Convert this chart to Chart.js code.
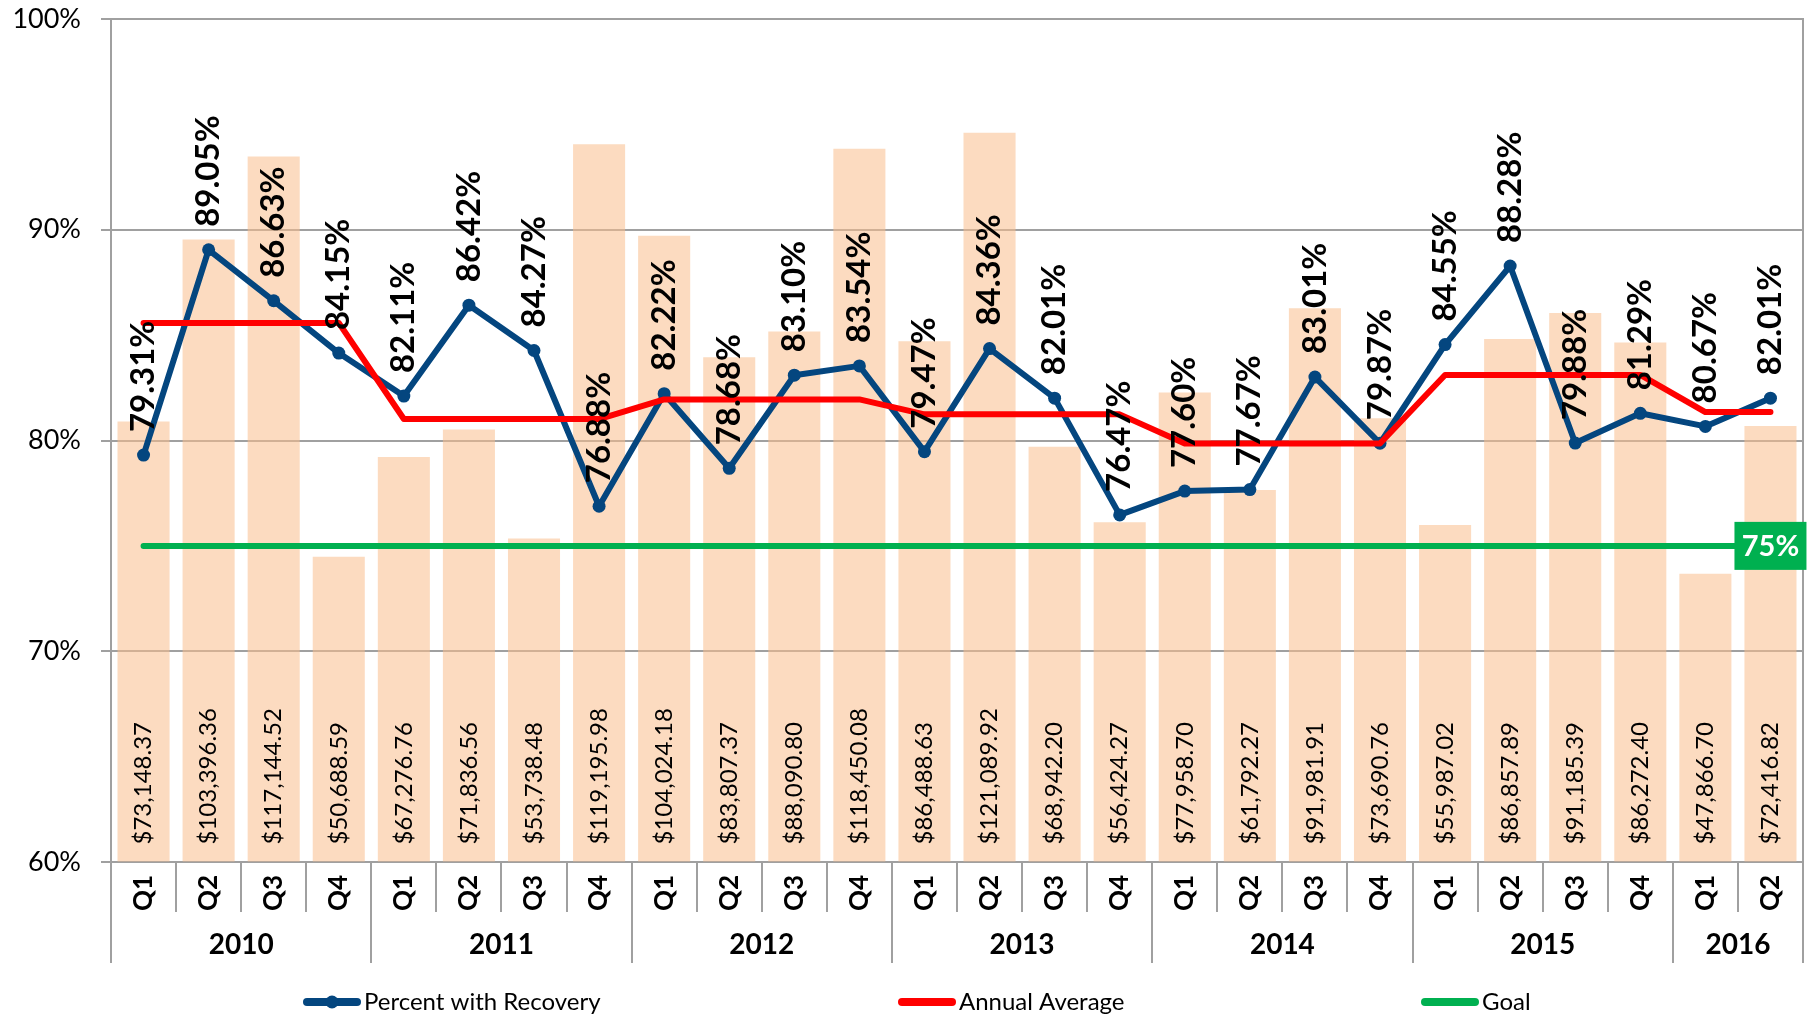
<!DOCTYPE html>
<html><head><meta charset="utf-8">
<script src="https://cdn.jsdelivr.net/npm/chart.js@4.4.1/dist/chart.umd.min.js"></script>
<style>html,body{margin:0;padding:0;background:#fff;overflow:hidden}#wrap{width:1818px;height:1015px}</style>
</head><body><div id="wrap"><canvas id="c" width="1818" height="1015"></canvas></div>
<script>
// ---- data ----
const quarters = ['Q1','Q2','Q3','Q4','Q1','Q2','Q3','Q4','Q1','Q2','Q3','Q4','Q1','Q2','Q3','Q4','Q1','Q2','Q3','Q4','Q1','Q2','Q3','Q4','Q1','Q2'];
const years = ['2010','2011','2012','2013','2014','2015','2016'];
const quartersPerYear = [4,4,4,4,4,4,2];
const recoveryAmounts = [73148.37,103396.36,117144.52,50688.59,67276.76,71836.56,53738.48,119195.98,104024.18,83807.37,88090.80,118450.08,86488.63,121089.92,68942.20,56424.27,77958.70,61792.27,91981.91,73690.76,55987.02,86857.89,91185.39,86272.40,47866.70,72416.82];
const percentWithRecovery = [79.31,89.05,86.63,84.15,82.11,86.42,84.27,76.88,82.22,78.68,83.10,83.54,79.47,84.36,82.01,76.47,77.60,77.67,83.01,79.87,84.55,88.28,79.88,81.29,80.67,82.01];
const annualAverage = [85.58,85.58,85.58,85.58,81.02,81.02,81.02,81.02,81.95,81.95,81.95,81.95,81.24,81.24,81.24,81.24,79.86,79.86,79.86,79.86,83.11,83.11,83.11,83.11,81.35,81.35];
const goal = [75,75,75,75,75,75,75,75,75,75,75,75,75,75,75,75,75,75,75,75,75,75,75,75,75,75];
const seriesNames = ['Percent with Recovery','Annual Average','Goal'];

// ---- styles ----
const FONT = 'Lato';
const BLUE = '#04467F', RED = '#FF0000', GREEN = '#00B050', GRID = '#A0A0A0';
const BAR = 'rgba(250,190,140,0.55)';

function money(v){ return '$' + v.toLocaleString('en-US',{minimumFractionDigits:2,maximumFractionDigits:2}); }

const labelPlugin = {
  id: 'customLabels',
  afterDatasetsDraw(chart) {
    const ctx = chart.ctx;
    ctx.save();
    ctx.fillStyle = '#000';
    ctx.textAlign = 'left';
    ctx.textBaseline = 'middle';
    // bar labels
    ctx.font = '24px ' + FONT;
    chart.getDatasetMeta(3).data.forEach((bar, i) => {
      ctx.save(); ctx.translate(bar.x, bar.base - 17); ctx.rotate(-Math.PI/2);
      ctx.fillText(money(recoveryAmounts[i]), 0, 0); ctx.restore();
    });
    // percent labels
    ctx.font = 'bold 33px ' + FONT;
    chart.getDatasetMeta(0).data.forEach((pt, i) => {
      ctx.save(); ctx.translate(pt.x, pt.y - 23); ctx.rotate(-Math.PI/2);
      ctx.fillText(percentWithRecovery[i].toFixed(2) + '%', 0, 0); ctx.restore();
    });
    // goal label box on last point
    const gm = chart.getDatasetMeta(2).data;
    const last = gm[gm.length - 1];
    ctx.fillStyle = GREEN;
    ctx.fillRect(last.x - 36, last.y - 24, 72, 48);
    ctx.fillStyle = '#fff';
    ctx.textAlign = 'center';
    ctx.font = 'bold 29px ' + FONT;
    ctx.fillText(goal[goal.length - 1] + '%', last.x, last.y + 1);
    ctx.restore();
  },
  afterDraw(chart) {
    const ctx = chart.ctx, xs = chart.scales.x, area = chart.chartArea;
    const n = quarters.length;
    const half = (xs.getPixelForValue(1) - xs.getPixelForValue(0)) / 2;
    const bottom = area.bottom;
    ctx.save();
    ctx.strokeStyle = GRID; ctx.lineWidth = 2;
    // boundaries
    let yearStarts = new Set([0]);
    let acc = 0; quartersPerYear.forEach(q => { acc += q; yearStarts.add(acc); });
    for (let i = 0; i <= n; i++) {
      const px = Math.round(i < n ? xs.getPixelForValue(i) - half : xs.getPixelForValue(n - 1) + half);
      const len = yearStarts.has(i) ? 101 : 50;
      ctx.beginPath(); ctx.moveTo(px, bottom); ctx.lineTo(px, bottom + len); ctx.stroke();
    }
    // year labels
    ctx.fillStyle = '#000'; ctx.textAlign = 'center'; ctx.textBaseline = 'middle';
    ctx.font = 'bold 28px ' + FONT;
    let s = 0;
    years.forEach((y, k) => {
      const e = s + quartersPerYear[k] - 1;
      const cx = (xs.getPixelForValue(s) + xs.getPixelForValue(e)) / 2;
      ctx.fillText(y, cx, bottom + 83);
      s = e + 1;
    });
    // legend
    const legendY = 1002, starts = [303, 898, 1421], colors = [BLUE, RED, GREEN];
    ctx.font = '24px ' + FONT; ctx.textAlign = 'left';
    seriesNames.forEach((name, k) => {
      const x0 = starts[k];
      ctx.strokeStyle = colors[k]; ctx.lineWidth = 8; ctx.lineCap = 'round';
      ctx.beginPath(); ctx.moveTo(x0 + 4, legendY); ctx.lineTo(x0 + 54, legendY); ctx.stroke();
      if (k === 0) { ctx.fillStyle = BLUE; ctx.beginPath(); ctx.arc(x0 + 29, legendY, 6.5, 0, Math.PI*2); ctx.fill(); }
      ctx.fillStyle = '#000';
      ctx.fillText(name, x0 + 61, legendY);
    });
    ctx.restore();
  }
};

function build() {
  new Chart(document.getElementById('c'), {
    type: 'bar',
    data: {
      labels: quarters,
      datasets: [
        { type:'line', label: seriesNames[0], data: percentWithRecovery, yAxisID:'y', borderColor: BLUE, backgroundColor: BLUE,
          borderWidth: 6, pointRadius: 6.5, pointBackgroundColor: BLUE, pointBorderWidth: 0, tension: 0, order: 2,
          borderJoinStyle: 'round' },
        { type:'line', label: seriesNames[1], data: annualAverage, yAxisID:'y', borderColor: RED, borderWidth: 6,
          pointRadius: 0, tension: 0, order: 1, borderCapStyle: 'round', borderJoinStyle: 'round' },
        { type:'line', label: seriesNames[2], data: goal, yAxisID:'y', borderColor: GREEN, borderWidth: 6,
          pointRadius: 0, tension: 0, order: 3, borderCapStyle: 'round' },
        { type:'bar', label: 'Recovery', data: recoveryAmounts, yAxisID:'y2', backgroundColor: BAR,
          barPercentage: 0.8, categoryPercentage: 1.0, order: 4 }
      ]
    },
    options: {
      responsive: false, animation: false, devicePixelRatio: 1,
      layout: { padding: { top: 19, left: 0, right: 0, bottom: 0 } },
      plugins: { legend: { display: false }, tooltip: { enabled: false } },
      scales: {
        x: { offset: true, grid: { display: false, drawTicks: false }, border: { display: false },
             ticks: { autoSkip: false, maxRotation: 90, minRotation: 90, padding: 13, color: '#000',
                      font: { family: FONT, weight: 'bold', size: 26 } },
             afterFit(s) { s.height = 153; } },
        y: { min: 60, max: 100,
             ticks: { stepSize: 10, callback: v => v + '%', padding: 20, color: '#000', font: { family: FONT, size: 27 } },
             grid: { color: GRID, lineWidth: 2, tickLength: 10 },
             border: { color: GRID, width: 2 },
             afterFit(s) { s.width = 111; s.paddingTop = 0; s.paddingBottom = 0; } },
        y2: { position: 'right', min: 0, max: 140000, ticks: { display: false },
              grid: { drawOnChartArea: false, drawTicks: false }, border: { color: GRID, width: 2 },
              afterFit(s) { s.width = 15; s.paddingTop = 0; s.paddingBottom = 0; } }
      }
    },
    plugins: [labelPlugin]
  });
}
const fontLoads = ['24px Lato','bold 32px Lato'].map(f => document.fonts.load(f).catch(()=>{}));
Promise.all(fontLoads).then(build, build);
</script></body></html>
